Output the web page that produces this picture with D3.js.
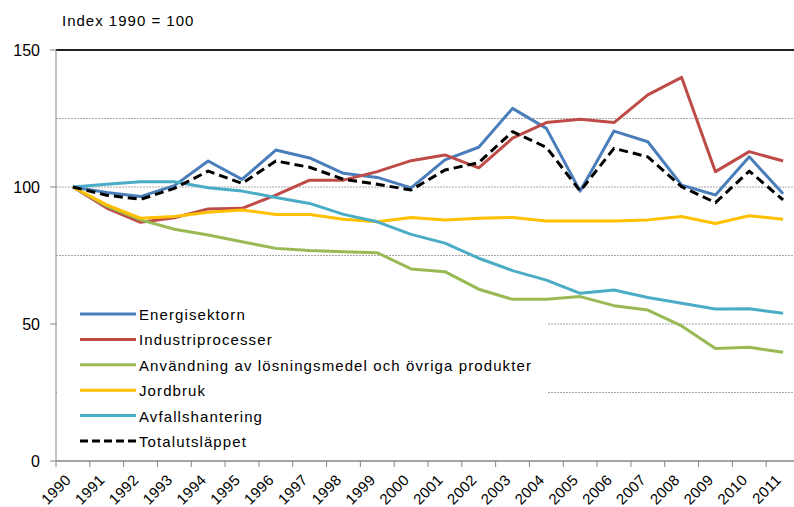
<!DOCTYPE html>
<html>
<head>
<meta charset="utf-8">
<script src="https://cdn.jsdelivr.net/npm/d3@7"></script>
<style>
  body { margin: 0; background: #fff; }
  svg text { font-family: "Liberation Sans", Arial, sans-serif; fill: #000; }
</style>
</head>
<body>
<svg class="chart" width="794" height="507"></svg>
<script>
const years = d3.range(1990, 2012).map(String);
const yTicks = [0, 50, 100, 150];
const gridValues = [25, 50, 75, 100, 125];

const energi = [100, 98, 96.5, 100.5, 109.5, 102.8, 113.5, 110.6, 105, 103.5, 99.7, 109.9, 114.5, 128.7, 121.4, 98.5, 120.4, 116.5, 100.7, 97.1, 111, 97.5];
const industri = [100, 92.3, 87.1, 88.8, 92, 92.2, 97, 102.5, 102.5, 105.6, 109.6, 111.7, 107, 117.8, 123.5, 124.7, 123.5, 133.6, 140, 105.6, 112.9, 109.5];
const losning = [100, 93, 88, 84.6, 82.5, 80, 77.6, 76.8, 76.4, 76, 70.1, 69.1, 62.7, 59, 59, 60, 56.7, 55.1, 49.3, 41.1, 41.5, 39.7];
const jordbruk = [100, 93.5, 88.6, 89.2, 90.8, 91.6, 90, 90, 88.2, 87.3, 88.9, 88, 88.6, 88.9, 87.6, 87.6, 87.6, 88, 89.2, 86.7, 89.5, 88.2];
const avfall = [100, 101, 101.9, 101.9, 99.7, 98.5, 96.2, 94, 90, 87.3, 82.7, 79.5, 74, 69.5, 66, 61.2, 62.4, 59.7, 57.6, 55.5, 55.6, 53.9];
const total = [100, 97, 95.5, 99.5, 105.8, 101.3, 109.5, 107.2, 102.8, 101, 98.9, 106.2, 108.9, 120.2, 114.5, 98.5, 114.1, 111, 100.1, 94.3, 105.8, 95.3];

const seriesNames = ["Energisektorn", "Industriprocesser", "Användning av lösningsmedel och övriga produkter", "Jordbruk", "Avfallshantering", "Totalutsläppet"];
const seriesValues = [energi, industri, losning, jordbruk, avfall, total];
const seriesColors = ["#4a7ebb", "#be4b48", "#98b954", "#ffc000", "#4bacc6", "#000000"];

const svg = d3.select('.chart');
const plotLeft = 56, plotRight = 800, plotTop = 50, plotBottom = 461;

const x = d3.scaleBand().domain(years).range([plotLeft, plotRight]);
const y = d3.scaleLinear().domain([0, 150]).range([plotBottom, plotTop]);

// gridlines
svg.append('g').selectAll('line')
  .data(gridValues)
  .enter().append('line')
  .attr('x1', plotLeft).attr('x2', 794)
  .attr('y1', d => y(d)).attr('y2', d => y(d))
  .attr('stroke', '#a6a6a6')
  .attr('stroke-width', 1)
  .attr('stroke-dasharray', '2,1');
svg.append('line')
  .attr('x1', plotLeft).attr('x2', 794)
  .attr('y1', y(150)).attr('y2', y(150))
  .attr('stroke', '#222').attr('stroke-width', 2);

// legend box (covers gridlines, sits under the lines)
svg.append('rect')
  .attr('x', plotLeft + 1).attr('y', 298)
  .attr('width', 548 - plotLeft - 1).attr('height', 157)
  .attr('fill', '#fff');

// y axis
svg.append('line')
  .attr('x1', plotLeft).attr('x2', plotLeft)
  .attr('y1', y(150)).attr('y2', y(0))
  .attr('stroke', '#868686');
svg.append('g').selectAll('line')
  .data(yTicks)
  .enter().append('line')
  .attr('x1', plotLeft - 6).attr('x2', plotLeft)
  .attr('y1', d => y(d)).attr('y2', d => y(d))
  .attr('stroke', '#868686');
svg.append('g').selectAll('text')
  .data(yTicks)
  .enter().append('text')
  .attr('x', 40)
  .attr('y', d => y(d) + 6)
  .attr('text-anchor', 'end')
  .style('font-size', '16px')
  .text(d => d);

// title
svg.append('text')
  .attr('x', 62).attr('y', 26)
  .style('font-size', '15px')
  .style('letter-spacing', '1px')
  .text('Index 1990 = 100');

// lines
const line = d3.line()
  .x((d, i) => x(years[i]) + x.bandwidth() / 2)
  .y(d => y(d));

seriesValues.forEach((vals, i) => {
  svg.append('path')
    .datum(vals)
    .attr('fill', 'none')
    .attr('stroke', seriesColors[i])
    .attr('stroke-width', 3)
    .attr('stroke-linejoin', 'round')
    .attr('stroke-dasharray', i === 5 ? '9,5' : null)
    .attr('d', line);
});

// x axis
svg.append('line')
  .attr('x1', plotLeft).attr('x2', 794)
  .attr('y1', plotBottom).attr('y2', plotBottom)
  .attr('stroke', '#868686').attr('stroke-width', 1.5);
svg.append('g').selectAll('line')
  .data(years)
  .enter().append('line')
  .attr('x1', d => x(d)).attr('x2', d => x(d))
  .attr('y1', plotBottom).attr('y2', plotBottom + 6)
  .attr('stroke', '#868686');
svg.append('g').selectAll('text')
  .data(years)
  .enter().append('text')
  .attr('text-anchor', 'end')
  .attr('transform', d => `translate(${x(d) + x.bandwidth() / 2 - 1}, ${plotBottom + 20}) rotate(-45)`)
  .style('font-size', '15px')
  .style('letter-spacing', '0.3px')
  .text(d => d);

// legend
const legend = svg.append('g');
seriesNames.forEach((name, i) => {
  const ly = 314 + i * 25.4;
  legend.append('line')
    .attr('x1', 80).attr('x2', 136)
    .attr('y1', ly).attr('y2', ly)
    .attr('stroke', seriesColors[i])
    .attr('stroke-width', 3)
    .attr('stroke-dasharray', i === 5 ? '8,4' : null);
  legend.append('text')
    .attr('x', 139).attr('y', ly + 6)
    .style('font-size', '15px')
    .style('letter-spacing', '1.1px')
    .text(name);
});
</script>
</body>
</html>
